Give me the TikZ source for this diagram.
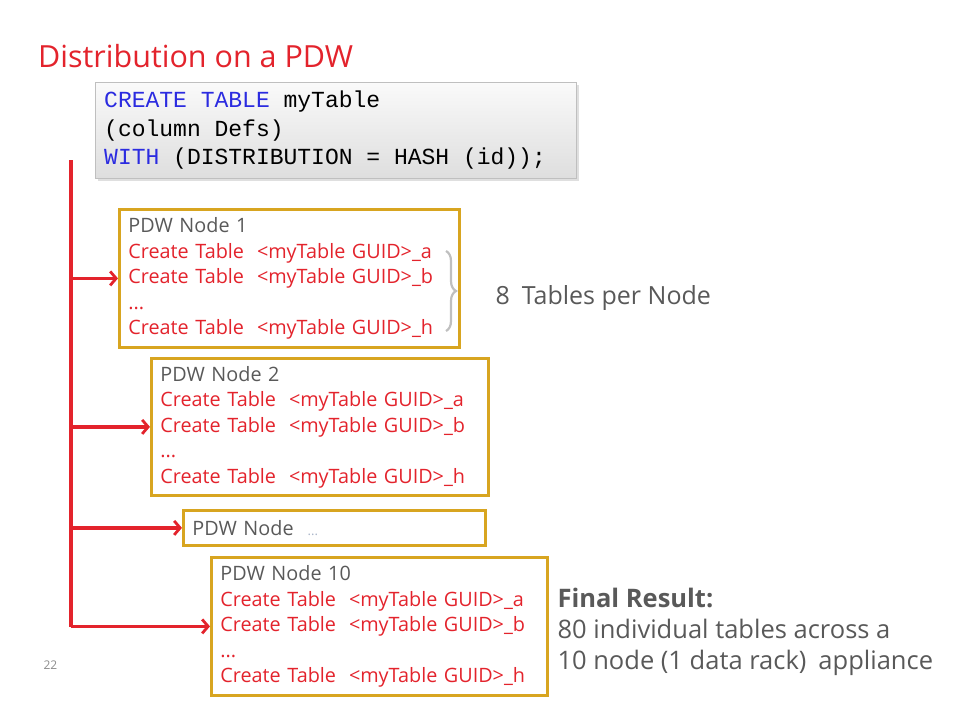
\documentclass[tikz,border=0pt]{standalone}
\usepackage{fontspec}
\setmainfont{Open Sans}
\setmonofont{Liberation Mono}
\usetikzlibrary{arrows.meta,positioning,shadows,decorations.pathreplacing}
\definecolor{pdwred}{HTML}{E3232C}
\definecolor{pdwgold}{HTML}{D8A520}
\definecolor{pdwgray}{HTML}{595959}
\definecolor{sqlblue}{HTML}{2B2BE0}
\definecolor{dotgray}{HTML}{A8B4C8}
\newcommand{\ctab}[1]{\textcolor{pdwred}{Create Table\hspace{13pt}{<}myTable GUID{>}\_#1}}
\newcommand{\msp}{\hspace*{0.6em}}
\begin{document}
\begin{tikzpicture}[x=1pt,y=-1pt]
\tikzset{pdwbox/.style={draw=pdwgold, line width=2.8pt, anchor=north west, align=left,
    inner xsep=9pt, inner ysep=0pt, font=\fontsize{19.8}{25.5}\selectfont},
  feed/.style={draw=pdwred, line width=3.2pt, -{Straight Barb[length=6pt,width=14pt,line width=2.8pt]}},
  side/.style={text=pdwgray, anchor=west, align=left}}
\useasboundingbox (0,0) rectangle (960,720);
% title and statement
\node[anchor=base west, inner sep=0pt, text=pdwred, font=\fontsize{30.5}{34}\selectfont] (title) at (38,67) {Distribution on a PDW};
\node[anchor=north west, draw=black!25, top color=black!2, bottom color=black!13, drop shadow={opacity=0.25},
  minimum width=481pt, minimum height=96pt, text width=463pt, inner xsep=9pt, align=left,
  font=\ttfamily\fontsize{23}{28.5}\selectfont] (sql) at (95,82)
  {\textcolor{sqlblue}{CREATE\msp TABLE}\msp myTable\\(column\msp Defs)\\\textcolor{sqlblue}{WITH}\msp(DISTRIBUTION\msp=\msp HASH\msp(id));};
% the nodes
\node[pdwbox, minimum width=340pt, minimum height=138pt, text width=322pt] (node1) at (118,208)
  {\textcolor{pdwgray}{PDW Node 1}\\\ctab{a}\\\ctab{b}\\\textcolor{pdwred}{...}\\\ctab{h}};
\node[pdwbox, minimum width=337pt, minimum height=137pt, text width=319pt] (node2) at (150,357)
  {\textcolor{pdwgray}{PDW Node 2}\\\ctab{a}\\\ctab{b}\\\textcolor{pdwred}{...}\\\ctab{h}};
\node[pdwbox, minimum width=302pt, minimum height=35pt, text width=284pt] (nodex) at (182,509)
  {\textcolor{pdwgray}{PDW Node}\hspace{14pt}\textcolor{dotgray}{\fontsize{13}{14}\selectfont...}};
\node[pdwbox, minimum width=336pt, minimum height=138pt, text width=318pt] (node10) at (210,556)
  {\textcolor{pdwgray}{PDW Node 10}\\\ctab{a}\\\ctab{b}\\\textcolor{pdwred}{...}\\\ctab{h}};
% distribution arrows
\coordinate (trunktop) at (71,160);
\coordinate (trunkbot) at (71,627);
\draw[draw=pdwred, line width=3.2pt] (trunktop) -- (trunkbot);
\foreach \n in {node1,node2,nodex,node10}
  \draw[feed] (trunktop |- \n.west) -- (\n.west);
% brace and notes
\coordinate (bracetop) at (446,251);
\coordinate (bracebot) at (446,331);
\draw[black!25, line width=2.2pt, decorate, decoration={brace, amplitude=10pt}] (bracetop) -- (bracebot);
\node[side, font=\fontsize{25}{29}\selectfont] (pernode) at (492,298) {8\hspace{12pt}Tables per Node};
\node[side, font=\fontsize{25.5}{31}\selectfont] (result) at (554,632)
  {\textbf{Final Result:}\\80 individual tables across a\\10 node (1 data rack)\hspace{12pt}appliance};
\node[anchor=west, text=black!45, font=\fontsize{12}{14}\selectfont] (page) at (40,665) {22};
\end{tikzpicture}
\end{document}
